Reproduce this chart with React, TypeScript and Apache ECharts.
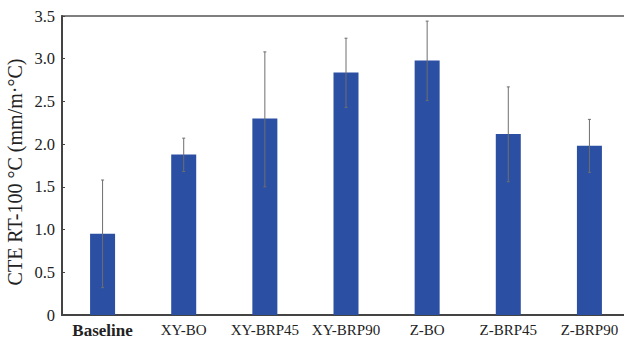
import React, { useEffect, useRef } from "react";
import * as echarts from "echarts";

const categories = ["Baseline", "XY-BO", "XY-BRP45", "XY-BRP90", "Z-BO", "Z-BRP45", "Z-BRP90"];
const means = [0.95, 1.88, 2.3, 2.84, 2.98, 2.12, 1.98];
const errLow = [0.32, 1.68, 1.5, 2.43, 2.51, 1.56, 1.67];
const errHigh = [1.58, 2.07, 3.08, 3.24, 3.44, 2.67, 2.29];
const yTicks = [0, 0.5, 1.0, 1.5, 2.0, 2.5, 3.0, 3.5];
const yName = "CTE RT-100 °C (mm/m·°C)";

const FONT = "'Liberation Serif', 'Times New Roman', serif";

export default function App() {
  const ref = useRef<HTMLDivElement>(null);
  useEffect(() => {
    if (!ref.current) return;
    const chart = echarts.init(ref.current, undefined, { renderer: "svg" });
    const errData = categories.map((_, i) => [i, errLow[i], errHigh[i]]);
    chart.setOption({
      animation: false,
      backgroundColor: "#ffffff",
      grid: {
        left: 62,
        top: 16,
        width: 568,
        height: 299,
        show: true,
        borderColor: "#555555",
        borderWidth: 1.5,
      },
      graphic: [
        {
          type: "text",
          x: 15,
          y: 172,
          rotation: Math.PI / 2,
          style: {
            text: yName,
            fontFamily: FONT,
            fontSize: 20,
            fill: "#222222",
            align: "center",
            verticalAlign: "middle",
          },
        },
      ],
      xAxis: {
        type: "category",
        data: categories,
        axisLine: { show: true, lineStyle: { color: "#444444", width: 2 } },
        axisTick: { show: false },
        axisLabel: {
          color: "#222222",
          fontFamily: FONT,
          fontSize: 15,
          margin: 7,
          interval: 0,
          formatter: (v: string) => (v === "Baseline" ? "{b|" + v + "}" : v),
          rich: {
            b: { fontFamily: FONT, fontSize: 17, fontWeight: "bold", color: "#222222" },
          },
        },
      },
      yAxis: {
        type: "value",
        min: yTicks[0],
        max: yTicks[yTicks.length - 1],
        interval: 0.5,
        axisLine: { show: true, lineStyle: { color: "#444444", width: 2 } },
        axisTick: { show: true, inside: true, length: 3, lineStyle: { color: "#444444" } },
        splitLine: { show: false },
        axisLabel: {
          color: "#222222",
          fontFamily: FONT,
          fontSize: 16.5,
          margin: 7,
          formatter: (v: number) => (v === 0 ? "0" : v.toFixed(1)),
        },
      },
      series: [
        {
          type: "bar",
          data: means,
          barWidth: 25,
          itemStyle: { color: "#2b4fa3" },
        },
        {
          type: "custom",
          data: errData,
          z: 10,
          renderItem: (params: any, api: any) => {
            const x = api.value(0);
            const lo = api.coord([x, api.value(1)]);
            const hi = api.coord([x, api.value(2)]);
            const cap = 1.5;
            const style = { stroke: "#6e6e6e", lineWidth: 1 };
            return {
              type: "group",
              children: [
                { type: "line", shape: { x1: lo[0], y1: lo[1], x2: hi[0], y2: hi[1] }, style },
                { type: "line", shape: { x1: hi[0] - cap, y1: hi[1], x2: hi[0] + cap, y2: hi[1] }, style },
                { type: "line", shape: { x1: lo[0] - cap, y1: lo[1], x2: lo[0] + cap, y2: lo[1] }, style },
              ],
            };
          },
        },
      ],
    });
    return () => chart.dispose();
  }, []);
  return (
    <div style={{ position: "fixed", left: 0, top: 0, width: 624, height: 346, overflow: "hidden", background: "#fff" }}>
      <div ref={ref} style={{ width: 640, height: 346 }} />
    </div>
  );
}
